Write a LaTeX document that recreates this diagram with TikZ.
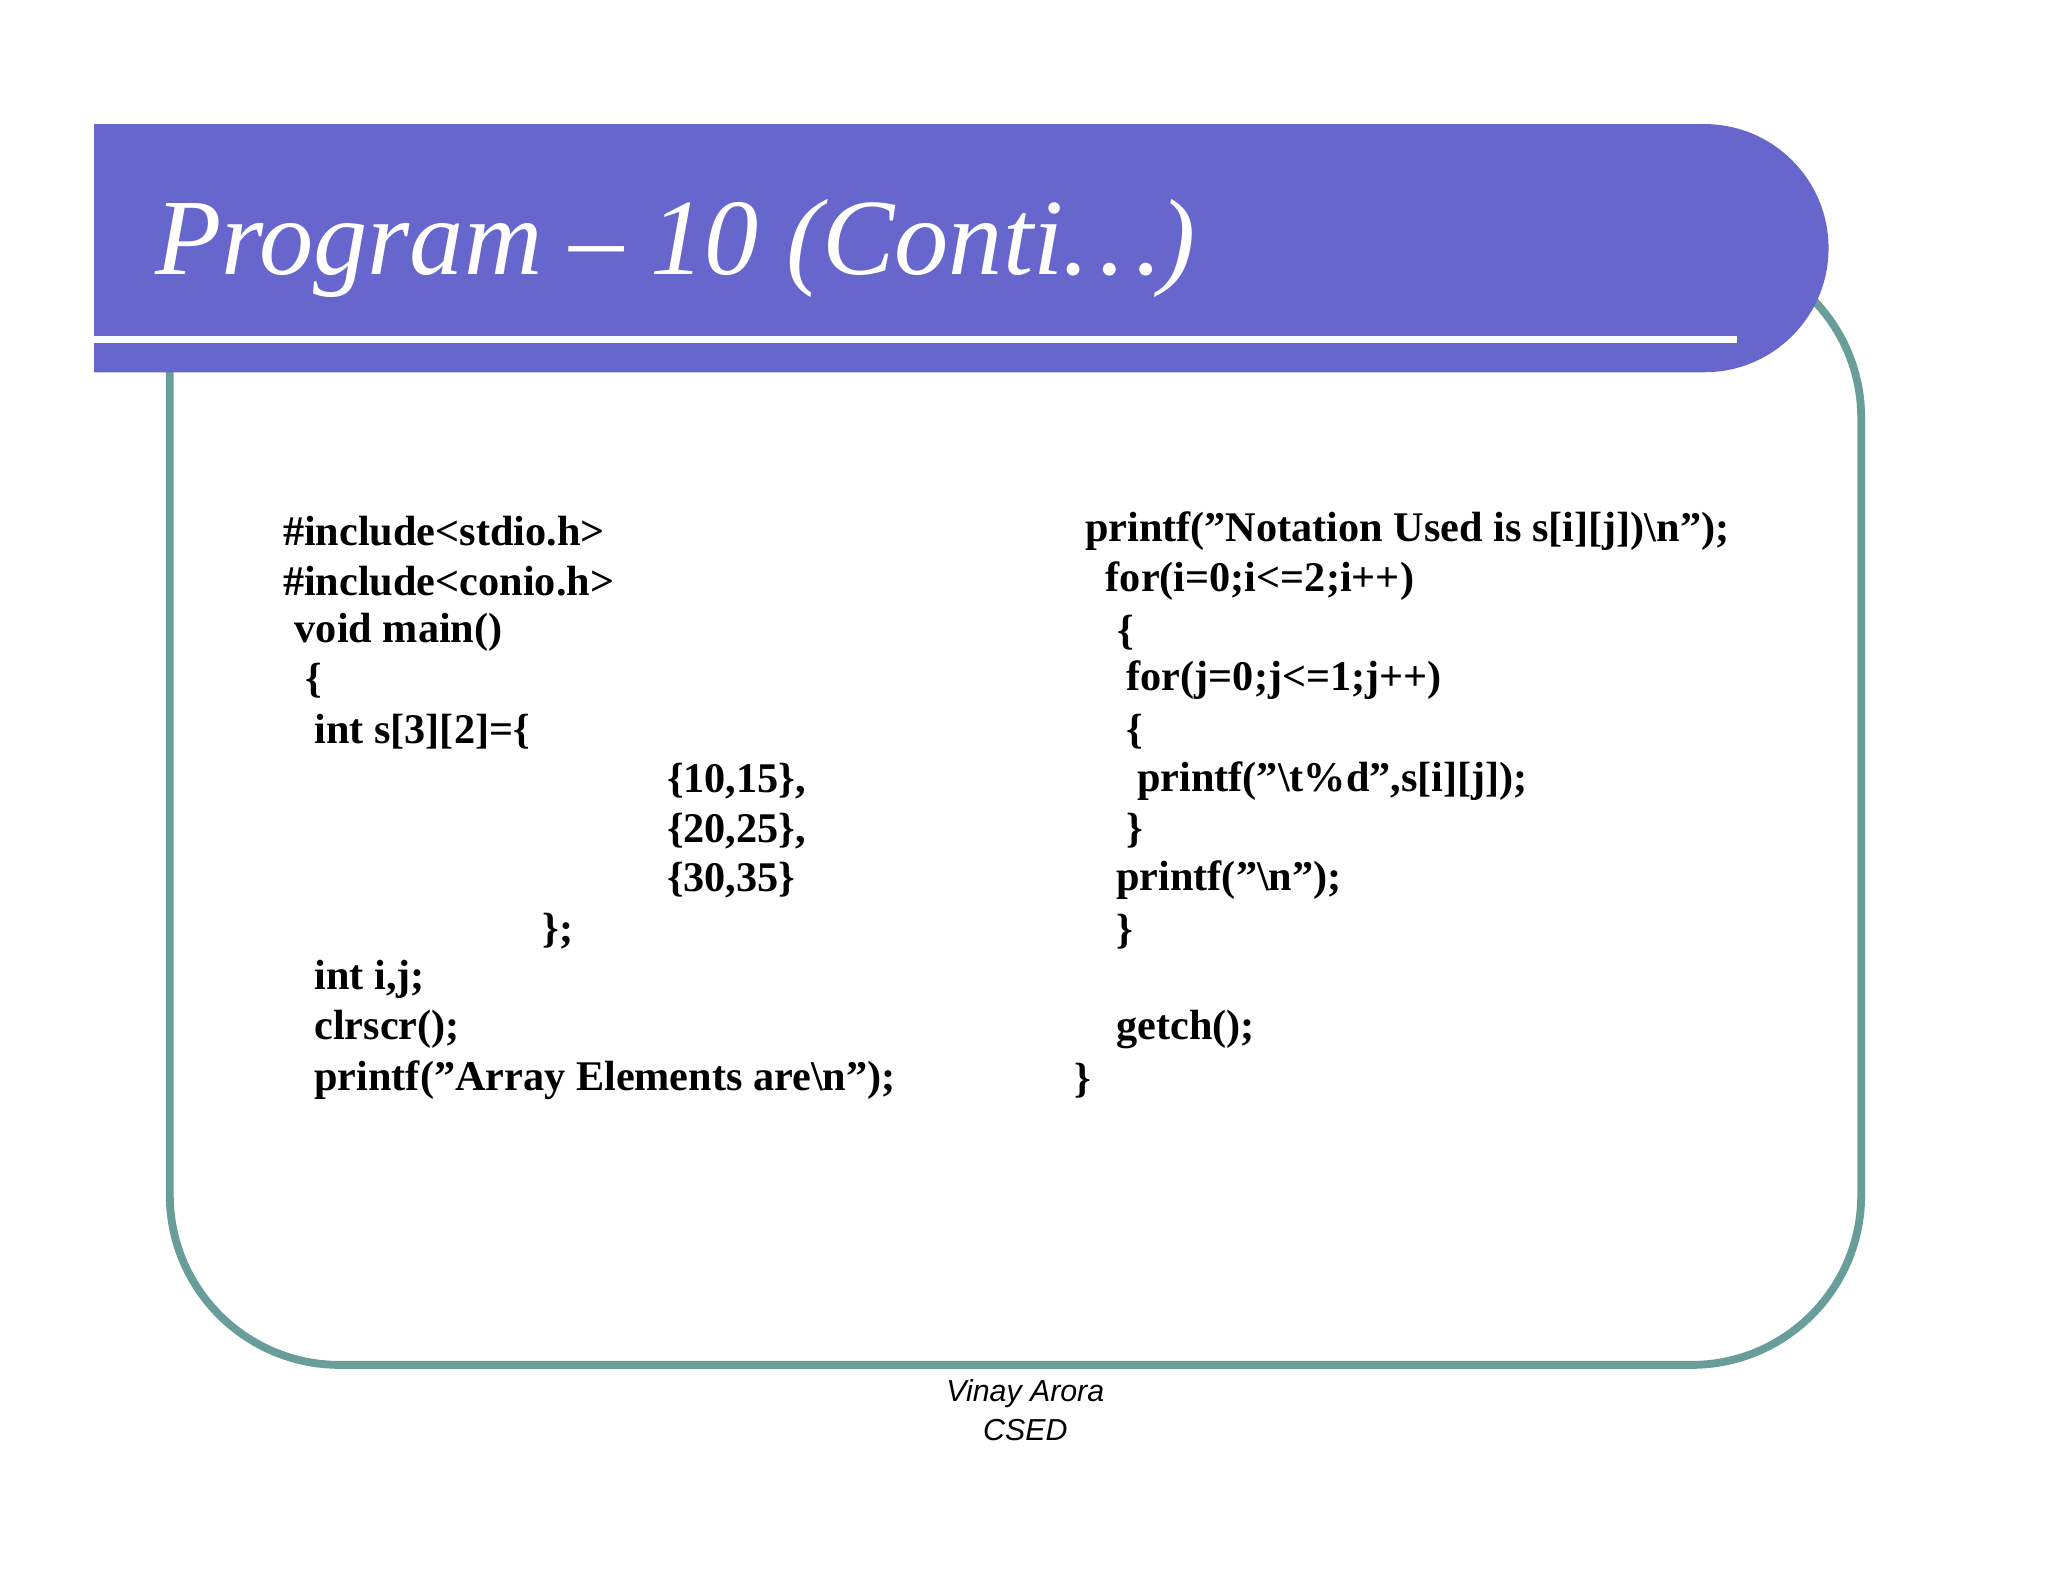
\documentclass[tikz,border=0pt]{standalone}
\usepackage{fontspec}
\setmainfont{Liberation Serif}
\newfontfamily\footsans{Liberation Sans}
\newcommand\dq{\char34\relax}
\definecolor{hdr}{RGB}{102,102,204}
\definecolor{frame}{RGB}{104,157,154}
\begin{document}
\begin{tikzpicture}[x=0.01cm,y=0.01cm,
  code/.style={anchor=west,inner sep=0pt,font=\fontsize{9.2pt}{10pt}\selectfont\bfseries},
  foot/.style={inner sep=0pt,font=\footsans\itshape\fontsize{6.6pt}{7pt}\selectfont}]
\useasboundingbox (0,0) rectangle (1568,-1211);
\fill[white] (0,0) rectangle (1568,-1211);
\draw[frame,line width=0.06cm] (130,-190) [rounded corners=1.3cm] -- (130,-1045) -- (1425,-1045) -- (1425,-190) [sharp corners] -- cycle;
\fill[hdr] (72,-95) -- (1305,-95) arc(90:-90:95) -- (72,-285) -- cycle;
\draw[white,line width=0.05cm] (72,-260) -- (1330,-260);
\node[anchor=base west,inner sep=0pt,text=white,font=\itshape\fontsize{23.6pt}{26pt}\selectfont] (title) at (118,-210) {Program – 10 (Conti…)};
% left column
\node[code] (l1) at (216,-407) {\#include<stdio.h>};
\node[code] (l2) at (216,-445) {\#include<conio.h>};
\node[code] (l3) at (225,-484) {void main()};
\node[code] (l4) at (233,-521) {\{};
\node[code] (l5) at (240,-560) {int s[3][2]=\{};
\node[code] (l6) at (510,-598) {\{10,15\},};
\node[code] (l7) at (510,-636) {\{20,25\},};
\node[code] (l8) at (510,-674) {\{30,35\}};
\node[code] (l9) at (415,-713) {\};};
\node[code] (l10) at (240,-750) {int i,j;};
\node[code] (l11) at (240,-788) {clrscr();};
\node[code] (l12) at (240,-827) {printf(\dq Array Elements are\textbackslash n\dq);};
% right column
\node[code] (r1) at (830,-407) {printf(\dq Notation Used is s[i][j])\textbackslash n\dq);};
\node[code] (r2) at (846,-445) {for(i=0;i<=2;i++)};
\node[code] (r3) at (855,-484) {\{};
\node[code] (r4) at (862,-521) {for(j=0;j<=1;j++)};
\node[code] (r5) at (862,-560) {\{};
\node[code] (r6) at (870,-598) {printf(\dq\textbackslash t\%d\dq,s[i][j]);};
\node[code] (r7) at (862,-636) {\}};
\node[code] (r8) at (854,-674) {printf(\dq\textbackslash n\dq);};
\node[code] (r9) at (854,-713) {\}};
\node[code] (r10) at (854,-788) {getch();};
\node[code] (r11) at (822,-827) {\}};
\node[foot] (f1) at (785,-1067) {Vinay Arora};
\node[foot] (f2) at (785,-1095) {CSED};
\end{tikzpicture}
\end{document}
